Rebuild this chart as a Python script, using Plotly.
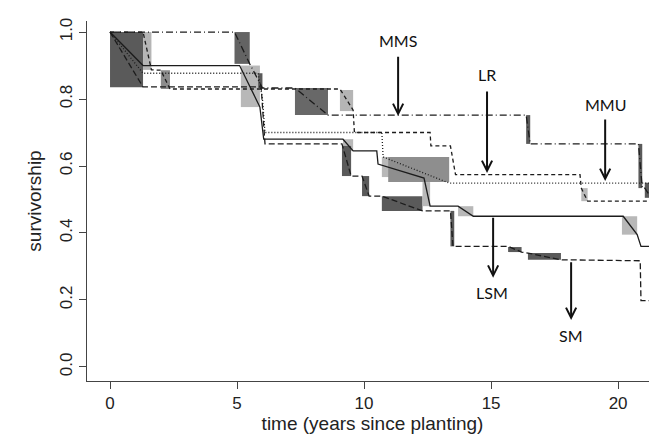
import plotly.graph_objects as go

# ---- data ----
lsm_t = [0, 1.3, 5.1, 5.9, 6.05, 9.17, 9.57, 10.5, 10.55, 12.36, 12.6, 13.7, 14.3, 20.2, 20.75, 20.9, 21.6]
lsm_s = [1.0, 0.90, 0.90, 0.776, 0.68, 0.68, 0.645, 0.645, 0.606, 0.564, 0.48, 0.48, 0.45, 0.45, 0.395, 0.36, 0.36]

sm_t = [0, 1.3, 5.95, 6.1, 9.13, 9.49, 9.92, 10.2, 10.7, 12.3, 13.4, 13.5, 15.67, 16.2, 16.45, 17.75, 20.87, 20.9, 21.6]
sm_s = [1.0, 0.836, 0.836, 0.666, 0.666, 0.57, 0.57, 0.51, 0.51, 0.466, 0.466, 0.36, 0.36, 0.343, 0.34, 0.32, 0.317, 0.198, 0.198]

mmu_t = [0, 1.3, 5.83, 6.0, 6.1, 10.7, 10.75, 13.35, 21.3, 21.6]
mmu_s = [1.0, 0.877, 0.877, 0.80, 0.70, 0.70, 0.627, 0.549, 0.549, 0.42]

lr_t = [0, 1.3, 1.63, 2.0, 2.36, 9.05, 9.57, 9.62, 12.6, 12.63, 13.4, 13.6, 18.5, 18.55, 18.8, 21.6]
lr_s = [1.0, 1.0, 0.887, 0.886, 0.83, 0.83, 0.767, 0.70, 0.70, 0.66, 0.66, 0.574, 0.574, 0.534, 0.495, 0.495]

mms_t = [0, 4.9, 5.5, 6.0, 7.28, 8.58, 16.38, 16.54, 20.8, 20.95, 21.05, 21.3, 21.45, 21.6]
mms_s = [1.0, 1.0, 0.905, 0.833, 0.833, 0.752, 0.752, 0.666, 0.666, 0.534, 0.534, 0.505, 0.455, 0.455]

# shaded interval boxes: x0, x1, y0, y1, shade
box_x0 = [0, 1.3, 2.0, 4.9, 5.15, 5.83, 7.28, 9.05, 9.17, 9.13, 9.92, 10.7, 10.7, 10.95, 12.3, 13.4, 13.7,
          15.67, 16.45, 16.38, 18.55, 20.15, 20.8, 21.05, 21.3, 21.25, 21.45]
box_x1 = [1.3, 1.63, 2.36, 5.5, 5.9, 6.0, 8.58, 9.57, 9.57, 9.49, 10.2, 12.3, 11.0, 13.35, 12.6, 13.55, 14.3,
          16.2, 17.75, 16.54, 18.8, 20.75, 20.95, 21.3, 21.6, 21.45, 21.6]
box_y0 = [0.835, 0.887, 0.83, 0.905, 0.776, 0.833, 0.752, 0.764, 0.645, 0.57, 0.51, 0.466, 0.567, 0.552, 0.48, 0.36, 0.45,
          0.343, 0.32, 0.666, 0.495, 0.395, 0.534, 0.505, 0.455, 0.455, 0.41]
box_y1 = [1.0, 1.0, 0.886, 1.0, 0.90, 0.877, 0.833, 0.827, 0.68, 0.66, 0.57, 0.51, 0.627, 0.627, 0.552, 0.466, 0.48,
          0.358, 0.34, 0.752, 0.534, 0.45, 0.666, 0.55, 0.55, 0.505, 0.455]
box_shade = ["#5a5a5a", "#b5b5b5", "#8c8c8c", "#636363", "#b8b8b8", "#5a5a5a", "#686868", "#b5b5b5", "#b8b8b8",
             "#5a5a5a", "#5a5a5a", "#5a5a5a", "#b8b8b8", "#8e8e8e", "#b8b8b8", "#5a5a5a", "#b8b8b8",
             "#5a5a5a", "#5a5a5a", "#5a5a5a", "#b8b8b8", "#b8b8b8", "#5a5a5a", "#5a5a5a", "#9a9a9a", "#777777", "#b8b8b8"]

labels = ["MMS", "LR", "MMU", "LSM", "SM"]
label_x = [11.34, 14.84, 19.49, 15.05, 18.15]
label_y = [0.976, 0.872, 0.785, 0.221, 0.093]
arrow_x = [11.34, 14.84, 19.49, 15.08, 18.15]
arrow_tail_y = [0.931, 0.827, 0.743, 0.45, 0.317]
arrow_tip_y = [0.749, 0.579, 0.555, 0.266, 0.14]

x_ticks = [0, 5, 10, 15, 20]
y_ticks = [0.0, 0.2, 0.4, 0.6, 0.8, 1.0]
y_ticktext = ["0.0", "0.2", "0.4", "0.6", "0.8", "1.0"]

# ---- figure ----
fig = go.Figure()

line_col = "#1c1c1c"
series = [
    (lsm_t, lsm_s, "solid"),
    (sm_t, sm_s, "6px,3px"),
    (mmu_t, mmu_s, "1px,2px"),
    (lr_t, lr_s, "4px,3px"),
    (mms_t, mms_s, "7px,3px,1px,3px"),
]
for t, s, d in series:
    fig.add_trace(go.Scatter(x=t, y=s, mode="lines",
                             line=dict(color=line_col, width=1.3, dash=d),
                             hoverinfo="skip", showlegend=False))

for x0, x1, y0, y1, c in zip(box_x0, box_x1, box_y0, box_y1, box_shade):
    fig.add_shape(type="rect", xref="x", yref="y", x0=x0, x1=x1, y0=y0, y1=y1,
                  fillcolor=c, line=dict(width=0), layer="below")

for ax_, tail, tip in zip(arrow_x, arrow_tail_y, arrow_tip_y):
    fig.add_annotation(x=ax_, y=tip, ax=ax_, ay=tail, xref="x", yref="y", axref="x", ayref="y",
                       text="", showarrow=True, arrowhead=5, arrowsize=1.0, arrowwidth=2,
                       arrowcolor="#111111")

for lab, lx, ly in zip(labels, label_x, label_y):
    fig.add_annotation(x=lx, y=ly, xref="x", yref="y", text=lab, showarrow=False,
                       font=dict(family="Lato", size=16, color="#111111"))

tick_font = dict(family="Liberation Sans, Arial", size=17, color="#222222")
title_font = dict(family="Liberation Sans, Arial", size=19, color="#222222")
fig.update_layout(
    width=657, height=437,
    margin=dict(l=79, r=7, t=13, b=64),
    paper_bgcolor="white", plot_bgcolor="white",
    showlegend=False,
    xaxis=dict(range=[-0.906, 21.57], tickvals=x_ticks, ticks="outside", ticklen=7,
               tickcolor="#444444", showline=True, linecolor="#444444", linewidth=1,
               showgrid=False, zeroline=False, tickfont=tick_font,
               title=dict(text="time (years since planting)", font=title_font, standoff=2)),
    yaxis=dict(range=[-0.042, 1.033], tickvals=y_ticks, ticktext=y_ticktext, ticks="outside",
               ticklen=7, tickangle=-90, tickcolor="#444444", showline=True, linecolor="#444444",
               linewidth=1, showgrid=False, zeroline=False, tickfont=tick_font,
               title=dict(text="survivorship", font=title_font, standoff=10)),
)

fig.write_html("out.html")
